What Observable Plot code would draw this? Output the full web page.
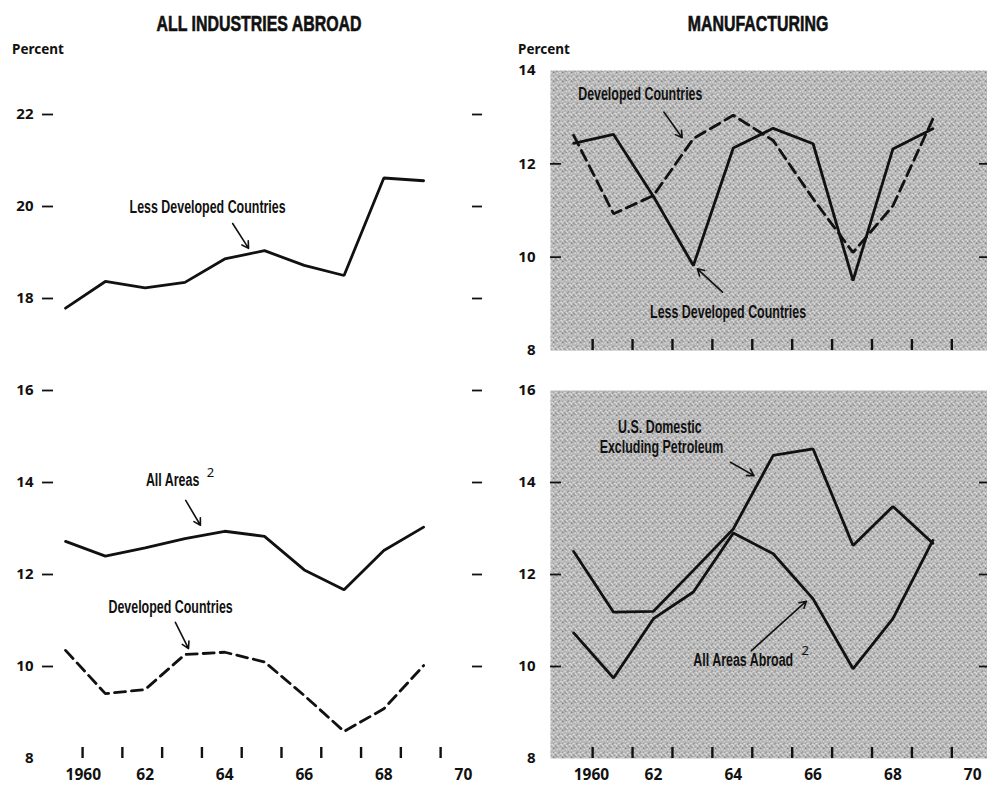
<!DOCTYPE html>
<html><head><meta charset="utf-8">
<script src="https://cdn.jsdelivr.net/npm/d3@7"></script>
<script src="https://cdn.jsdelivr.net/npm/@observablehq/plot@0.6"></script>
<style>
body{margin:0;background:#fff;}
#wrap{position:relative;width:987px;height:785px;overflow:hidden;background:#fff;}
#wrap svg{position:absolute;}
.title{position:absolute;font-family:"Liberation Sans Narrow","Liberation Sans",sans-serif;font-weight:900;font-size:21.5px;white-space:nowrap;transform:translate(-50%,-50%) scaleX(0.74);color:#111;-webkit-text-stroke:0.6px #111;}
.pct{position:absolute;font-family:"Noto Sans",sans-serif;font-weight:bold;font-size:13.5px;transform:translateY(-50%);color:#111;}
</style></head><body><div id="wrap"></div>
<script>
// ---------- data ----------
const years = [1960, 1961, 1962, 1963, 1964, 1965, 1966, 1967, 1968, 1969];

// All industries abroad
const allLessDeveloped = [17.79, 18.37, 18.23, 18.35, 18.86, 19.04, 18.72, 18.5, 20.62, 20.56];
const allAreas = [12.72, 12.4, 12.58, 12.78, 12.94, 12.83, 12.1, 11.67, 12.52, 13.03];
const allDeveloped = [10.35, 9.41, 9.5, 10.26, 10.31, 10.1, 9.37, 8.59, 9.08, 10.02];

// Manufacturing (top)
const mfgLessDeveloped = [12.44, 12.63, 11.3, 9.82, 12.34, 12.76, 12.43, 9.5, 12.32, 12.75];
const mfgDeveloped = [12.61, 10.93, 11.32, 12.54, 13.04, 12.5, 11.25, 10.1, 11.1, 12.96];

// Manufacturing (bottom)
const usDomesticExPetroleum = [12.5, 11.18, 11.2, 12.09, 12.99, 14.59, 14.73, 12.63, 13.48, 12.68];
const mfgAllAreasAbroad = [10.73, 9.75, 11.04, 11.62, 12.9, 12.45, 11.47, 9.95, 11.04, 12.74];

// tick labels
const xLabelYears = [1960, 1962, 1964, 1966, 1968, 1970];
const xLabelText = ["1960", "62", "64", "66", "68", "70"];
const leftYLabels = [8, 10, 12, 14, 16, 18, 20, 22];
const leftYDashes = [10, 12, 14, 16, 18, 20, 22];
const topYLabels = [8, 10, 12, 14];
const topYDashes = [10, 12];
const botYLabels = [8, 10, 12, 14, 16];
const botYDashes = [10, 12, 14];

// annotations (data coordinates)
const leftNotes = [
  {x: 1963.57, y: 19.98, t: "Less Developed Countries"},
  {x: 1962.69, y: 14.04, t: "All Areas"},
  {x: 1962.64, y: 11.28, t: "Developed Countries"}
];
const leftSup = [{x: 1963.64, y: 14.22, t: "2"}];
const leftArrows = [
  {x1: 1964.2, y1: 19.63, x2: 1964.6, y2: 19.09},
  {x1: 1963.02, y1: 13.61, x2: 1963.39, y2: 13.07},
  {x1: 1962.76, y1: 10.96, x2: 1963.09, y2: 10.39}
];
const topNotes = [
  {x: 1961.67, y: 13.49, t: "Developed Countries"},
  {x: 1963.87, y: 8.82, t: "Less Developed Countries"}
];
const topArrows = [
  {x1: 1962.26, y1: 13.11, x2: 1962.72, y2: 12.56},
  {x1: 1963.73, y1: 9.25, x2: 1963.1, y2: 9.75}
];
const botNotes = [
  {x: 1962.16, y: 15.19, t: "U.S. Domestic"},
  {x: 1962.2, y: 14.76, t: "Excluding Petroleum"},
  {x: 1964.25, y: 10.13, t: "All Areas Abroad"}
];
const botSup = [{x: 1965.8, y: 10.35, t: "2"}];
const botArrows = [
  {x1: 1963.93, y1: 14.44, x2: 1964.52, y2: 14.15},
  {x1: 1964.45, y1: 10.34, x2: 1965.83, y2: 11.42}
];

// ---------- helpers ----------
const toRows = (vals) => years.map((yr, i) => ({year: yr, v: vals[i]}));
const labelRows = xLabelYears.map((yr, i) => ({year: yr, t: xLabelText[i]}));
const condFont = '"Liberation Sans Narrow","Liberation Sans",sans-serif';
const tickFont = '"Noto Sans",sans-serif';
const noteStrings = new Set([...leftNotes, ...topNotes, ...botNotes].map(d => d.t));

function panel(o) {
  const fw = o.width - o.ml - o.mr, fh = o.height - o.mt - o.mb;
  const marks = [];
  if (o.bg) marks.push(Plot.frame({fill: `url(#${o.id})`, stroke: "none"}));
  marks.push(Plot.ruleY(o.yDashes, {y: d => d, insetRight: fw - 11, strokeWidth: 1.8, stroke: "#111"}));
  marks.push(Plot.ruleY(o.yDashes, {y: d => d, insetLeft: fw - o.rdash, strokeWidth: 1.8, stroke: "#111"}));
  marks.push(Plot.ruleX(years, {x: d => d, dx: o.tickDx, insetTop: fh - 11, strokeWidth: 2.4, stroke: "#111"}));
  marks.push(Plot.text(o.yLabels, {y: d => d, text: d => String(d), frameAnchor: "left", textAnchor: "end", dx: -o.ypad, fontFamily: tickFont, fontWeight: "bold", fontSize: 15, fill: "#111"}));
  if (o.xlabels) {
    marks.push(Plot.text(labelRows.slice(0, 1), {x: "year", text: "t", frameAnchor: "bottom", textAnchor: "start", dy: 21, fontFamily: tickFont, fontWeight: "bold", fontSize: 15.5, fill: "#111"}));
    marks.push(Plot.text(labelRows.slice(1), {x: "year", text: "t", frameAnchor: "bottom", dy: 21, fontFamily: tickFont, fontWeight: "bold", fontSize: 15.5, fill: "#111"}));
  }
  for (const s of o.series) {
    marks.push(Plot.line(toRows(s.vals), {x: "year", y: "v", stroke: "#111", strokeWidth: 2.8, strokeLinejoin: "miter", strokeDasharray: s.dash ? "11,6" : null}));
  }
  marks.push(Plot.arrow(o.arrows, {x1: "x1", y1: "y1", x2: "x2", y2: "y2", bend: 0, headLength: 7, strokeWidth: 1.6, stroke: "#111"}));
  marks.push(Plot.text(o.notes, {x: "x", y: "y", text: "t", fontFamily: condFont, fontWeight: "bold", fontSize: 17.5, fill: "#111"}));
  if (o.sup) marks.push(Plot.text(o.sup, {x: "x", y: "y", text: "t", fontFamily: tickFont, fontSize: 13, fill: "#111"}));
  const svg = Plot.plot({
    width: o.width, height: o.height,
    marginLeft: o.ml, marginRight: o.mr, marginTop: o.mt, marginBottom: o.mb,
    x: {domain: o.xDomain, axis: null},
    y: {domain: o.yDomain, axis: null},
    style: {background: "transparent", overflow: "visible"},
    marks
  });
  if (o.bg) {
    const defs = d3.select(svg).insert("defs", ":first-child");
    const p = defs.append("pattern").attr("id", o.id).attr("width", 9).attr("height", 9).attr("patternUnits", "userSpaceOnUse");
    p.append("rect").attr("width", 9).attr("height", 9).attr("fill", "#d2d2d2");
    [[0,0],[2,0],[5,1],[7,1],[1,2],[3,2],[6,3],[8,3],[0,4],[4,4],[2,5],[5,5],[7,6],[1,6],[3,7],[6,7],[0,8],[4,8],[8,8],[5,3],[2,7]].forEach(([a, b]) =>
      p.append("rect").attr("x", a).attr("y", b).attr("width", 1).attr("height", 1).attr("fill", "#6a6a6a"));
    [[3,0],[8,5],[4,6],[6,1],[1,4]].forEach(([a, b]) =>
      p.append("rect").attr("x", a).attr("y", b).attr("width", 1).attr("height", 1).attr("fill", "#f2f2f2"));
  }
  svg.style.left = o.left + "px";
  svg.style.top = o.top + "px";
  return svg;
}

const wrap = document.getElementById("wrap");

wrap.appendChild(panel({
  id: "pl", left: 0, top: 0, width: 490, height: 785, ml: 42, mr: 8, mt: 114, mb: 27,
  xDomain: [1959.42, 1970.48], yDomain: [8, 22], bg: false, rdash: 10, tickDx: 17, ypad: 9, xlabels: true,
  yLabels: leftYLabels, yDashes: leftYDashes,
  series: [{vals: allLessDeveloped}, {vals: allAreas}, {vals: allDeveloped, dash: true}],
  notes: leftNotes, sup: leftSup, arrows: leftArrows
}));
wrap.appendChild(panel({
  id: "pt", left: 490, top: 0, width: 497, height: 370, ml: 60, mr: 0, mt: 70, mb: 20,
  xDomain: [1959.42, 1970.37], yDomain: [8, 14], bg: true, rdash: 8, tickDx: 19, ypad: 15, xlabels: false,
  yLabels: topYLabels, yDashes: topYDashes,
  series: [{vals: mfgLessDeveloped}, {vals: mfgDeveloped, dash: true}],
  notes: topNotes, arrows: topArrows
}));
wrap.appendChild(panel({
  id: "pb", left: 490, top: 370, width: 497, height: 415, ml: 60, mr: 0, mt: 20, mb: 27,
  xDomain: [1959.42, 1970.37], yDomain: [8, 16], bg: true, rdash: 8, tickDx: 19, ypad: 15, xlabels: true,
  yLabels: botYLabels, yDashes: botYDashes,
  series: [{vals: usDomesticExPetroleum}, {vals: mfgAllAreasAbroad}],
  notes: botNotes, sup: botSup, arrows: botArrows
}));

// condense annotation text (narrow typeface look)
wrap.querySelectorAll("svg text").forEach(t => {
  if (!noteStrings.has(t.textContent)) return;
  const w = t.getComputedTextLength();
  t.setAttribute("textLength", (w * 0.71).toFixed(1));
  t.setAttribute("lengthAdjust", "spacingAndGlyphs");
});

// titles and unit labels
function addDiv(cls, text, x, y) {
  const d = document.createElement("div");
  d.className = cls; d.textContent = text;
  d.style.left = x + "px"; d.style.top = y + "px";
  wrap.appendChild(d);
}
addDiv("title", "ALL INDUSTRIES ABROAD", 259, 24);
addDiv("title", "MANUFACTURING", 758, 24);
addDiv("pct", "Percent", 12, 49);
addDiv("pct", "Percent", 518, 49);
</script>
</body></html>
